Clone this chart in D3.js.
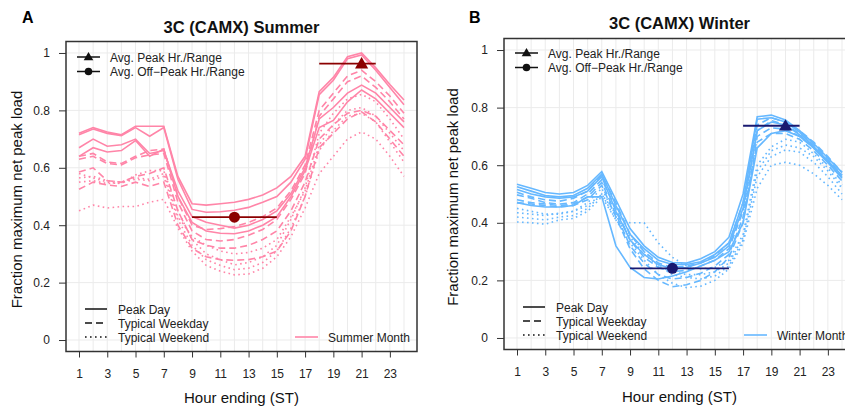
<!DOCTYPE html>
<html>
<head>
	<title>3C (CAMX) Summer / Winter</title>
	<script src="https://d3js.org/d3.v7.min.js"></script>
	<style>
	body { margin: 0; background: #fff; }
	svg { font-family: "Liberation Sans", Arial, Helvetica, sans-serif; }
	</style>
</head>
<body>
</body>
<script type="text/javascript">

// hours 1..24
const hours = d3.range(1, 25)
const xTicks = [1, 3, 5, 7, 9, 11, 13, 15, 17, 19, 21, 23]
const yTicks = [0, 0.2, 0.4, 0.6, 0.8, 1]
const yTickLabels = ["0", "0.2", "0.4", "0.6", "0.8", "1"]

// summer curves (one per month)
const summerPeakDay = [
	[0.72,0.74,0.725,0.715,0.745,0.745,0.745,0.57,0.475,0.47,0.475,0.48,0.49,0.505,0.53,0.57,0.64,0.865,0.915,0.987,1.0,0.948,0.89,0.836],
	[0.715,0.735,0.72,0.712,0.74,0.71,0.74,0.56,0.455,0.445,0.447,0.452,0.462,0.48,0.5,0.55,0.63,0.855,0.905,0.98,0.993,0.94,0.88,0.82],
	[0.67,0.70,0.675,0.68,0.70,0.65,0.66,0.52,0.43,0.41,0.40,0.39,0.40,0.42,0.45,0.51,0.60,0.77,0.81,0.86,0.888,0.86,0.81,0.76],
	[0.64,0.67,0.655,0.66,0.695,0.64,0.665,0.50,0.41,0.38,0.372,0.37,0.38,0.40,0.43,0.50,0.59,0.74,0.765,0.83,0.871,0.84,0.79,0.74]
]
const summerWeekday = [
	[0.64,0.65,0.62,0.615,0.64,0.66,0.665,0.50,0.40,0.385,0.388,0.395,0.41,0.43,0.46,0.52,0.61,0.80,0.86,0.92,0.94,0.90,0.85,0.79],
	[0.63,0.64,0.615,0.61,0.635,0.645,0.65,0.48,0.38,0.35,0.345,0.35,0.365,0.385,0.42,0.49,0.58,0.78,0.84,0.90,0.92,0.88,0.83,0.77],
	[0.585,0.60,0.555,0.55,0.57,0.58,0.60,0.45,0.35,0.33,0.32,0.32,0.33,0.35,0.38,0.45,0.55,0.70,0.75,0.79,0.80,0.78,0.73,0.68],
	[0.525,0.55,0.54,0.535,0.55,0.535,0.55,0.40,0.32,0.29,0.28,0.278,0.28,0.29,0.31,0.38,0.50,0.67,0.72,0.77,0.795,0.76,0.70,0.64]
]
const summerWeekend = [
	[0.58,0.565,0.55,0.545,0.575,0.59,0.59,0.45,0.35,0.30,0.28,0.262,0.27,0.29,0.33,0.42,0.53,0.72,0.79,0.84,0.856,0.83,0.77,0.70],
	[0.565,0.57,0.555,0.55,0.565,0.56,0.58,0.43,0.36,0.33,0.31,0.30,0.305,0.32,0.35,0.43,0.52,0.68,0.75,0.80,0.81,0.78,0.72,0.66],
	[0.55,0.555,0.545,0.548,0.56,0.555,0.57,0.42,0.33,0.28,0.26,0.245,0.25,0.27,0.31,0.39,0.50,0.66,0.73,0.78,0.79,0.76,0.69,0.62],
	[0.45,0.47,0.46,0.465,0.465,0.48,0.49,0.39,0.31,0.26,0.24,0.227,0.23,0.25,0.29,0.36,0.46,0.58,0.64,0.70,0.725,0.70,0.64,0.57]
]

// winter curves (one per month)
const winterPeakDay = [
	[0.534,0.52,0.505,0.50,0.505,0.53,0.578,0.48,0.38,0.32,0.28,0.262,0.26,0.275,0.30,0.35,0.50,0.768,0.774,0.757,0.72,0.675,0.625,0.575],
	[0.525,0.51,0.495,0.49,0.495,0.52,0.57,0.46,0.36,0.31,0.27,0.255,0.255,0.265,0.29,0.33,0.47,0.76,0.765,0.75,0.715,0.665,0.615,0.565],
	[0.516,0.50,0.49,0.485,0.49,0.51,0.56,0.44,0.34,0.29,0.255,0.24,0.245,0.26,0.28,0.32,0.45,0.72,0.75,0.74,0.705,0.66,0.61,0.555],
	[0.47,0.46,0.455,0.455,0.46,0.49,0.49,0.32,0.245,0.21,0.205,0.215,0.23,0.25,0.27,0.30,0.40,0.66,0.71,0.72,0.70,0.66,0.61,0.56]
]
const winterWeekday = [
	[0.506,0.49,0.48,0.475,0.485,0.51,0.565,0.47,0.36,0.30,0.26,0.245,0.25,0.26,0.285,0.33,0.47,0.74,0.765,0.75,0.72,0.68,0.63,0.575],
	[0.497,0.485,0.47,0.465,0.47,0.50,0.55,0.45,0.34,0.28,0.245,0.23,0.235,0.25,0.27,0.31,0.44,0.72,0.755,0.74,0.71,0.67,0.62,0.565],
	[0.48,0.47,0.465,0.46,0.465,0.49,0.54,0.43,0.32,0.26,0.22,0.205,0.21,0.225,0.25,0.29,0.42,0.68,0.71,0.71,0.69,0.65,0.60,0.545],
	[0.47,0.465,0.46,0.455,0.46,0.48,0.53,0.42,0.31,0.24,0.20,0.178,0.185,0.20,0.23,0.28,0.40,0.70,0.73,0.725,0.70,0.66,0.61,0.555]
]
const winterWeekend = [
	[0.45,0.44,0.43,0.43,0.44,0.46,0.50,0.43,0.35,0.29,0.25,0.23,0.22,0.22,0.23,0.26,0.35,0.58,0.65,0.67,0.66,0.63,0.58,0.52],
	[0.435,0.43,0.425,0.434,0.44,0.47,0.52,0.42,0.40,0.40,0.33,0.28,0.25,0.24,0.245,0.27,0.36,0.60,0.664,0.69,0.68,0.64,0.59,0.53],
	[0.42,0.415,0.41,0.42,0.425,0.45,0.50,0.41,0.36,0.30,0.25,0.22,0.21,0.205,0.215,0.25,0.34,0.56,0.63,0.653,0.645,0.61,0.56,0.50],
	[0.403,0.40,0.395,0.41,0.415,0.44,0.49,0.41,0.33,0.27,0.22,0.19,0.175,0.18,0.20,0.24,0.33,0.52,0.60,0.61,0.60,0.57,0.53,0.48]
]

// avg peak / off-peak hour and range
const summerPeakHr = {hour: 21, value: 0.963, from: 18, to: 22}
const summerOffPeakHr = {hour: 12, value: 0.428, from: 9, to: 15}
const winterPeakHr = {hour: 20, value: 0.737, from: 17, to: 21}
const winterOffPeakHr = {hour: 12, value: 0.242, from: 9, to: 16}

const width = 845
const height = 409

const svg = d3.select("body").append("svg")
	.attr("width", width)
	.attr("height", height)

const panels = [
	{
		letter: "A", title: "3C (CAMX) Summer", monthLabel: "Summer Month",
		color: "#ff85a8", markColor: "#8b0000",
		left: 66, right: 417, top: 41.5, bottom: 351.5,
		peak: summerPeakDay, weekday: summerWeekday, weekend: summerWeekend,
		peakHr: summerPeakHr, offPeakHr: summerOffPeakHr,
		letterX: 22, titleY: 33, xLabY: 378, xTitleY: 403, yTitleX: 22,
		topLegX: 77, topLegY: 57, botLegX: 85, botLegY: 309, monthLegX: 295
	},
	{
		letter: "B", title: "3C (CAMX) Winter", monthLabel: "Winter Month",
		color: "#66b8ff", markColor: "#191970",
		left: 504, right: 855, top: 38.5, bottom: 349.5,
		peak: winterPeakDay, weekday: winterWeekday, weekend: winterWeekend,
		peakHr: winterPeakHr, offPeakHr: winterOffPeakHr,
		letterX: 469, titleY: 29, xLabY: 377, xTitleY: 402, yTitleX: 458,
		topLegX: 515, topLegY: 53, botLegX: 523, botLegY: 307, monthLegX: 744
	}
]

const styles = [
	{key: "peak", dash: null, label: "Peak Day"},
	{key: "weekday", dash: "7,4", label: "Typical Weekday"},
	{key: "weekend", dash: "1.6,3.4", label: "Typical Weekend"}
]

panels.forEach(function(p) {
	const x = d3.scaleLinear().domain([0.08, 24.92]).range([p.left, p.right])
	const y = d3.scaleLinear().domain([-0.04, 1.04]).range([p.bottom, p.top])
	const g = svg.append("g")

	// grid
	g.selectAll(".vgrid").data(hours).enter().append("line")
		.attr("x1", d => x(d)).attr("x2", d => x(d))
		.attr("y1", p.top).attr("y2", p.bottom)
		.attr("stroke", "#ebebeb").attr("stroke-width", 1)
	g.selectAll(".hgrid").data(yTicks).enter().append("line")
		.attr("x1", p.left).attr("x2", p.right)
		.attr("y1", d => y(d)).attr("y2", d => y(d))
		.attr("stroke", "#ebebeb").attr("stroke-width", 1)

	// curves
	const line = d3.line().x((d, i) => x(hours[i])).y(d => y(d))
	styles.forEach(function(s) {
		p[s.key].forEach(function(series) {
			g.append("path")
				.attr("d", line(series))
				.attr("fill", "none")
				.attr("stroke", p.color)
				.attr("stroke-width", 1.6)
				.attr("stroke-dasharray", s.dash)
		})
	})

	// avg peak / off-peak markers
	const tri = d3.symbol().type(d3.symbolTriangle)
	const marks = [{m: p.peakHr, shape: "tri"}, {m: p.offPeakHr, shape: "circ"}]
	marks.forEach(function(k) {
		g.append("line")
			.attr("x1", x(k.m.from)).attr("x2", x(k.m.to))
			.attr("y1", y(k.m.value)).attr("y2", y(k.m.value))
			.attr("stroke", p.markColor).attr("stroke-width", 1.8)
		if (k.shape == "tri") {
			g.append("path")
				.attr("d", tri.size(75)())
				.attr("transform", "translate(" + x(k.m.hour) + "," + (y(k.m.value) + 1) + ")")
				.attr("fill", p.markColor)
		} else {
			g.append("circle")
				.attr("cx", x(k.m.hour)).attr("cy", y(k.m.value)).attr("r", 5.5)
				.attr("fill", p.markColor)
		}
	})

	// box
	g.append("rect")
		.attr("x", p.left).attr("y", p.top)
		.attr("width", p.right - p.left).attr("height", p.bottom - p.top)
		.attr("fill", "none").attr("stroke", "#333").attr("stroke-width", 1.5)

	// axes
	const xAxis = g.append("g")
		.attr("transform", "translate(0," + p.bottom + ")")
		.call(d3.axisBottom(x).tickValues(xTicks).tickSize(6).tickSizeOuter(0).tickPadding(12))
	xAxis.select(".domain").remove()
	xAxis.selectAll("line").attr("stroke", "#333")
	xAxis.selectAll("text").attr("font-size", 12).attr("fill", "#222")
		.attr("font-family", "Liberation Sans, Arial, sans-serif")

	const yAxis = g.append("g")
		.attr("transform", "translate(" + p.left + ",0)")
		.call(d3.axisLeft(y).tickValues(yTicks).tickFormat((d, i) => yTickLabels[i]).tickSize(7).tickPadding(9))
	yAxis.select(".domain").remove()
	yAxis.selectAll("line").attr("stroke", "#333")
	yAxis.selectAll("text").attr("font-size", 12).attr("fill", "#222")
		.attr("font-family", "Liberation Sans, Arial, sans-serif")

	// titles
	svg.append("text").text(p.letter)
		.attr("x", p.letterX).attr("y", 23)
		.attr("font-size", 16).attr("font-weight", "bold")
	svg.append("text").text(p.title)
		.attr("x", (p.left + p.right) / 2).attr("y", p.titleY)
		.attr("text-anchor", "middle")
		.attr("font-size", 16.5).attr("font-weight", "bold").attr("fill", "#111")
	svg.append("text").text("Hour ending (ST)")
		.attr("x", (p.left + p.right) / 2).attr("y", p.xTitleY)
		.attr("text-anchor", "middle").attr("font-size", 15).attr("fill", "#111")
	svg.append("text").text("Fraction maximum net peak load")
		.attr("transform", "translate(" + p.yTitleX + "," + ((p.top + p.bottom) / 2 + 3) + ") rotate(-90)")
		.attr("text-anchor", "middle").attr("font-size", 15).attr("fill", "#111")

	// top legend
	const topLeg = [{label: "Avg. Peak Hr./Range", shape: "tri"}, {label: "Avg. Off\u2212Peak Hr./Range", shape: "circ"}]
	topLeg.forEach(function(d, i) {
		const ly = p.topLegY + i * 14.5
		svg.append("line")
			.attr("x1", p.topLegX).attr("x2", p.topLegX + 23)
			.attr("y1", ly).attr("y2", ly)
			.attr("stroke", "#111").attr("stroke-width", 1.5)
		if (d.shape == "tri") {
			svg.append("path").attr("d", tri.size(40)())
				.attr("transform", "translate(" + (p.topLegX + 11.5) + "," + (ly + 0.5) + ")")
				.attr("fill", "#111")
		} else {
			svg.append("circle").attr("cx", p.topLegX + 11.5).attr("cy", ly).attr("r", 3.8)
				.attr("fill", "#111")
		}
		svg.append("text").text(d.label)
			.attr("x", p.topLegX + 33).attr("y", ly + 4.5)
			.attr("font-size", 12).attr("fill", "#222")
	})

	// bottom legend
	styles.forEach(function(s, i) {
		const ly = p.botLegY + i * 14
		svg.append("line")
			.attr("x1", p.botLegX).attr("x2", p.botLegX + 22)
			.attr("y1", ly).attr("y2", ly)
			.attr("stroke", "#111").attr("stroke-width", 1.5)
			.attr("stroke-dasharray", s.dash)
		svg.append("text").text(s.label)
			.attr("x", p.botLegX + 33).attr("y", ly + 4.5)
			.attr("font-size", 12).attr("fill", "#222")
	})
	const my = p.botLegY + 28
	svg.append("line")
		.attr("x1", p.monthLegX).attr("x2", p.monthLegX + 23)
		.attr("y1", my).attr("y2", my)
		.attr("stroke", p.color).attr("stroke-width", 1.6)
	svg.append("text").text(p.monthLabel)
		.attr("x", p.monthLegX + 33).attr("y", my + 4.5)
		.attr("font-size", 12).attr("fill", "#222")
})

</script>
</html>
